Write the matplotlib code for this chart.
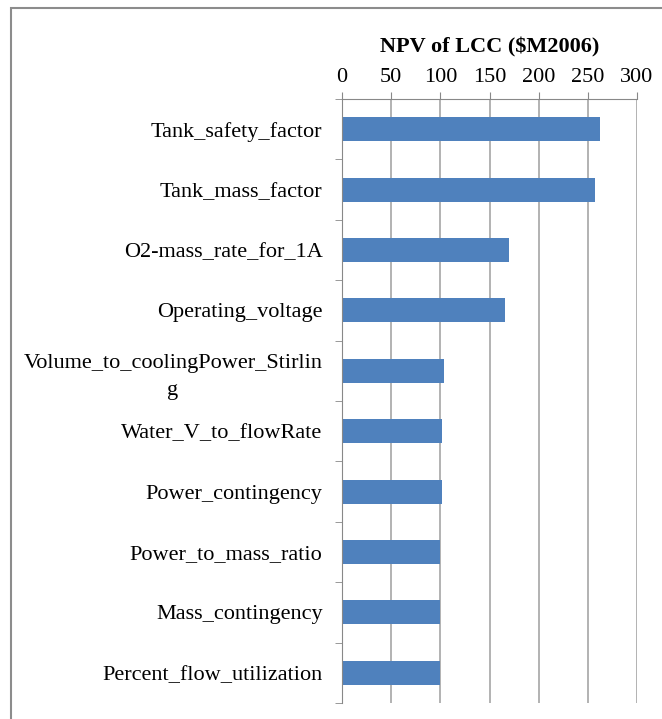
import matplotlib.pyplot as plt
import numpy as np
from matplotlib.patches import Rectangle

# data
labels = ["Tank_safety_factor", "Tank_mass_factor", "O2-mass_rate_for_1A",
          "Operating_voltage", "Volume_to_coolingPower_Stirlin\ng",
          "Water_V_to_flowRate", "Power_contingency", "Power_to_mass_ratio",
          "Mass_contingency", "Percent_flow_utilization"]
values = [262, 257, 170, 166, 104, 102, 102, 100, 100, 100]
xticks = [0, 50, 100, 150, 200, 250, 300]

plt.rcParams['font.family'] = ['Liberation Serif', 'DejaVu Serif']

fig = plt.figure(figsize=(6.62, 7.19), dpi=100)
ax = fig.add_axes([342/662, 1-703/719, (637-342)/662, (703-99)/719])

y = np.arange(len(labels))
ax.barh(y, values, height=0.4, color='#4f81bd', zorder=2)
ax.set_ylim(len(labels)-0.5, -0.5)
ax.set_xlim(0, 300)
ax.set_xticks(xticks)
ax.xaxis.tick_top()
ax.xaxis.set_label_position('top')
ax.set_xlabel("NPV of LCC ($M2006)", fontsize=16, fontweight='bold', labelpad=10.5)
ax.tick_params(axis='x', labelsize=16, length=5, color='#888888', pad=4)
ax.grid(axis='x', color='#a6a6a6', linewidth=1.2, zorder=0)

ax.set_yticks(y)
ax.set_yticklabels(labels, fontsize=16, linespacing=1.55, multialignment='center')
ax.set_yticks(np.arange(len(labels)+1)-0.5, minor=True)
ax.tick_params(axis='y', which='major', length=0, pad=14)
ax.tick_params(axis='y', which='minor', length=5, color='#888888')

for s in ['right', 'bottom']:
    ax.spines[s].set_visible(False)
ax.spines['left'].set_color('#888888')
ax.spines['top'].set_color('#888888')

# outer chart border
fig.patches.append(Rectangle((11/662, -0.1), 1.2, 1-7.5/719+0.1,
                             transform=fig.transFigure, fill=False,
                             edgecolor='#8c8c8c', linewidth=1.5))

fig.savefig('out.png', dpi=100)
